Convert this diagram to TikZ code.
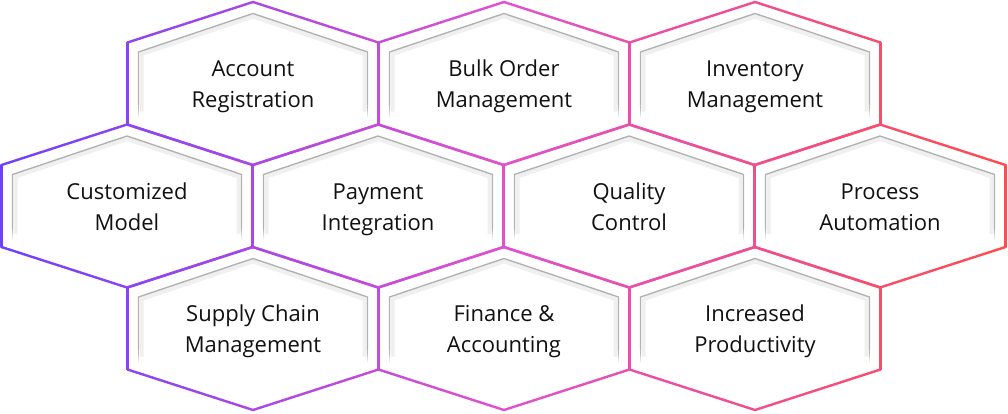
\documentclass[tikz,border=0pt]{standalone}
\usepackage{fontspec}
\setmainfont{Open Sans}
\definecolor{cA}{RGB}{110,64,255}
\definecolor{cB}{RGB}{226,80,205}
\definecolor{cC}{RGB}{255,76,76}
\definecolor{txt}{RGB}{17,17,17}
\newcommand{\segcol}[1]{%
  \pgfmathsetmacro{\px}{#1}%
  \ifdim\px pt<504pt
    \pgfmathsetmacro{\pp}{max(0,min(100,100*(1-\px/504)))}%
    \colorlet{sc}{cA!\pp!cB}%
  \else
    \pgfmathsetmacro{\pp}{max(0,min(100,100*(1-(\px-504)/504)))}%
    \colorlet{sc}{cB!\pp!cC}%
  \fi}
\newcommand{\gedge}[4]{%
  \foreach \i in {0,...,9}{%
    \pgfmathsetmacro{\xa}{#1+(#3-#1)*\i/10}%
    \pgfmathsetmacro{\ya}{#2+(#4-#2)*\i/10}%
    \pgfmathsetmacro{\xb}{#1+(#3-#1)*(\i+1)/10}%
    \pgfmathsetmacro{\yb}{#2+(#4-#2)*(\i+1)/10}%
    \segcol{(\xa+\xb)/2}%
    \draw[hexline, sc] (\xa,\ya) -- (\xb,\yb);
  }}
\newcommand{\hexout}[2]{%
  \pgfmathsetmacro{\hl}{#1-125.5}\pgfmathsetmacro{\hr}{#1+125.5}%
  \pgfmathsetmacro{\ht}{#2-81.5}\pgfmathsetmacro{\hb}{#2+81.5}%
  \pgfmathsetmacro{\su}{#2-41}\pgfmathsetmacro{\sd}{#2+41}%
  \edef\hexargs{{#1}{\ht}{\hr}{\su}}\expandafter\gedge\hexargs
  \edef\hexargs{{\hr}{\su}{\hr}{\sd}}\expandafter\gedge\hexargs
  \edef\hexargs{{\hr}{\sd}{#1}{\hb}}\expandafter\gedge\hexargs
  \edef\hexargs{{#1}{\hb}{\hl}{\sd}}\expandafter\gedge\hexargs
  \edef\hexargs{{\hl}{\sd}{\hl}{\su}}\expandafter\gedge\hexargs
  \edef\hexargs{{\hl}{\su}{#1}{\ht}}\expandafter\gedge\hexargs
}
\newcommand{\hexin}[2]{%
  \draw[innerglow] (#1-111.5,#2+28) -- (#1-111.5,#2-29.5) -- (#1,#2-67) -- (#1+111.5,#2-29.5) -- (#1+111.5,#2+28);
  \draw[innerline] (#1-114.5,#2+22) -- (#1-114.5,#2-31.5) -- (#1,#2-70) -- (#1+114.5,#2-31.5) -- (#1+114.5,#2+22);
  \foreach \k in {0,...,5}{%
    \pgfmathsetmacro{\pa}{#2+22+2*\k}\pgfmathsetmacro{\pb}{#2+24+2*\k}%
    \pgfmathsetmacro{\op}{30*(1-\k/6)}%
    \draw[line width=1.4pt, black!\op] (#1-114.5,\pa) -- (#1-114.5,\pb);
    \draw[line width=1.4pt, black!\op] (#1+114.5,\pa) -- (#1+114.5,\pb);
  }}
\tikzset{
  hexline/.style={line width=2.4pt, line cap=round, line join=round},
  innerline/.style={line width=1.4pt, black!30, line join=miter},
  innerglow/.style={line width=4pt, black!6, line join=miter},
  label/.style={font=\fontsize{22}{31}\selectfont, text=txt, align=center, inner sep=0pt,
    text height=47pt, text depth=0pt}
}
\begin{document}
\begin{tikzpicture}[x=1pt,y=-1pt]
\useasboundingbox[fill=white] (0,0) rectangle (1008,413);
% inner shadows
\foreach \cx/\cy in {253/83.5,504/83.5,755/83.5,127/206,378/206,629/206,880/206,253/328.5,504/328.5,755/328.5}{
  \hexin{\cx}{\cy}
}
% outlines
\foreach \cx/\cy in {253/83.5,504/83.5,755/83.5,127/206,378/206,629/206,880/206,253/328.5,504/328.5,755/328.5}{
  \hexout{\cx}{\cy}
}
% labels
\node[label] (acc) at (253,84) {Account\\Registration};
\node[label] (bulk) at (504,84) {Bulk Order\\Management};
\node[label] (inv) at (755,84) {Inventory\\Management};
\node[label] (cust) at (127,207) {Customized\\Model};
\node[label] (pay) at (378,207) {Payment\\Integration};
\node[label] (qual) at (629,207) {Quality\\Control};
\node[label] (proc) at (880,207) {Process\\Automation};
\node[label] (sup) at (253,329) {Supply Chain\\Management};
\node[label] (fin) at (504,329) {Finance \&\\Accounting};
\node[label] (incr) at (755,329) {Increased\\Productivity};
\end{tikzpicture}
\end{document}
